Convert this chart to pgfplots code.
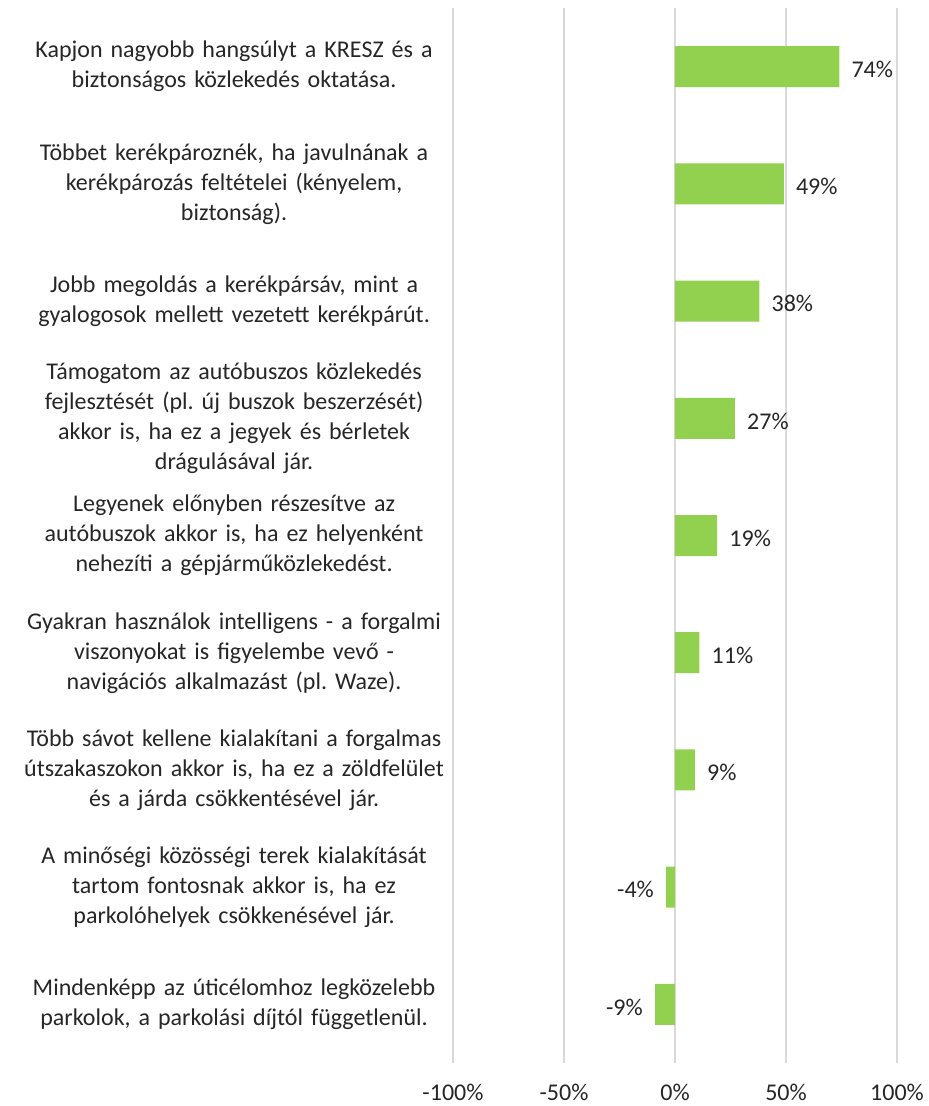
\documentclass[border=0pt]{standalone}
\usepackage{fontspec}
\setmainfont{Carlito}
\usepackage{pgfplots}
\pgfplotsset{compat=1.18}
\definecolor{barg}{HTML}{92D050}
\definecolor{gridg}{HTML}{D9D9D9}
\definecolor{txt}{HTML}{262626}
\frenchspacing
\begin{document}
\frenchspacing
\begin{tikzpicture}
\useasboundingbox (-339.75pt,-32.25pt) rectangle (356.25pt,797.25pt);
\begin{axis}[
 at={(0,0)}, anchor=south west,
 scale only axis, width=333pt, height=791.25pt,
 xmin=-100, xmax=100, ymin=-0.5, ymax=8.5, y dir=reverse,
 xbar, bar width=30.75pt, bar shift=0pt,
 axis line style={draw=none},
 xtick={-100,-50,0,50,100}, ytick={0,...,8},
 major tick length=0pt,
 xmajorgrids, grid style={gridg, line width=1.5pt},
 xticklabel={\pgfmathprintnumber[assume math mode=true]{\tick}\%},
 xticklabel style={font=\fontsize{18}{22.5}\selectfont, text=txt, yshift=-12pt},
 yticklabels={
  {Kapjon nagyobb hangsúlyt a KRESZ és a\\biztonságos közlekedés oktatása.},
  {Többet kerékpároznék, ha javulnának a\\kerékpározás feltételei (kényelem,\\biztonság).},
  {Jobb megoldás a kerékpársáv, mint a\\gyalogosok mellett vezetett kerékpárút.},
  {Támogatom az autóbuszos közlekedés\\fejlesztését (pl. új buszok beszerzését)\\akkor is, ha ez a jegyek és bérletek\\drágulásával jár.},
  {Legyenek előnyben részesítve az\\autóbuszok akkor is, ha ez helyenként\\nehezíti a gépjárműközlekedést.},
  {Gyakran használok intelligens - a forgalmi\\viszonyokat is figyelembe vevő -\\navigációs alkalmazást (pl. Waze).},
  {Több sávot kellene kialakítani a forgalmas\\útszakaszokon akkor is, ha ez a zöldfelület\\és a járda csökkentésével jár.},
  {A minőségi közösségi terek kialakítását\\tartom fontosnak akkor is, ha ez\\parkolóhelyek csökkenésével jár.},
  {Mindenképp az úticélomhoz legközelebb\\parkolok, a parkolási díjtól függetlenül.}
 },
 yticklabel style={font=\fontsize{18}{22.5}\selectfont\frenchspacing, text=txt, text width=320pt, align=center, inner sep=0pt, xshift=-4pt},
 point meta=x,
 nodes near coords={\pgfmathprintnumber[assume math mode=true]{\pgfplotspointmeta}\%},
 nodes near coords style={font=\fontsize{18}{22.5}\selectfont, text=txt, inner sep=9pt, yshift=-2pt},
]
\addplot[fill=barg, draw=none] coordinates {
 (74,0) (49,1) (38,2) (27,3) (19,4) (11,5) (9,6) (-4,7) (-9,8)
};
\end{axis}
\end{tikzpicture}
\end{document}
